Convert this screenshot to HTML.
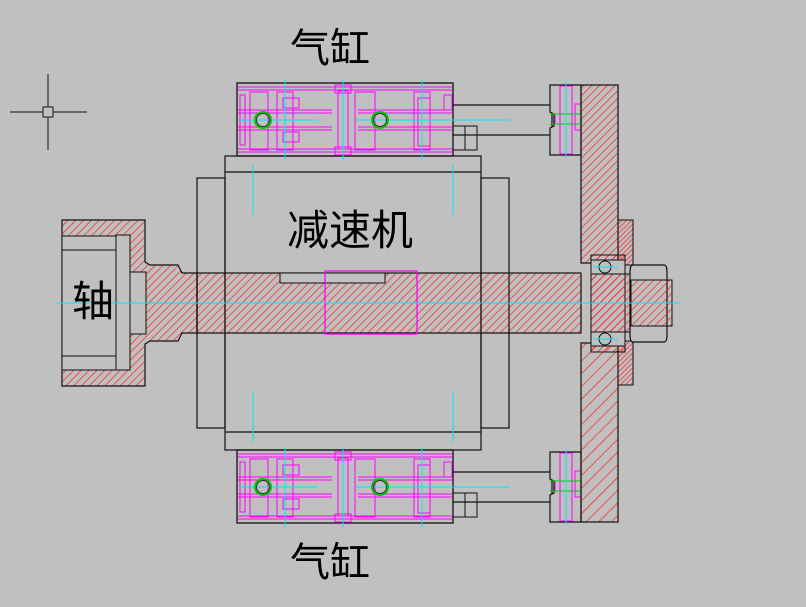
<!DOCTYPE html>
<html><head><meta charset="utf-8"><style>
html,body{margin:0;padding:0;background:#c0c0c0;}
svg{display:block;}
text{font-family:"Liberation Sans","WenQuanYi Zen Hei","Noto Sans CJK SC",sans-serif;fill:#000;}
</style></head><body>
<svg width="806" height="607" viewBox="0 0 806 607" xmlns="http://www.w3.org/2000/svg">
<defs>
<pattern id="h" width="5.5" height="5.5" patternUnits="userSpaceOnUse" patternTransform="rotate(45)">
<line x1="0" y1="0" x2="0" y2="5.5" stroke="#ff2020" stroke-width="1.4"/></pattern>
<pattern id="hd" width="3.5" height="3.5" patternUnits="userSpaceOnUse" patternTransform="rotate(45)">
<line x1="0" y1="0" x2="0" y2="3.5" stroke="#ff2020" stroke-width="1.4"/></pattern>
<pattern id="hw" width="9" height="9" patternUnits="userSpaceOnUse" patternTransform="rotate(45)">
<line x1="0" y1="0" x2="0" y2="9" stroke="#ff2020" stroke-width="1.4"/></pattern>
<g id="cyl">
<rect x="237" y="83" width="216" height="73" fill="none" stroke="#111" stroke-width="1.3"/>
<g fill="none" stroke="#ff00ff" stroke-width="1">
<line x1="238" y1="87" x2="452" y2="87"/><line x1="238" y1="90" x2="452" y2="90"/>
<line x1="238" y1="149" x2="452" y2="149"/><line x1="238" y1="152" x2="452" y2="152"/>
<rect x="240" y="95" width="5" height="50"/>
<rect x="250" y="92" width="18" height="58"/>
<rect x="277" y="92" width="16" height="58"/>
<rect x="283" y="98" width="16" height="10"/><rect x="283" y="132" width="16" height="10"/>
<rect x="338" y="91" width="10" height="58"/><rect x="335" y="85" width="16" height="8"/><rect x="335" y="147" width="16" height="8"/>
<line x1="238" y1="110" x2="332" y2="110"/><line x1="238" y1="113" x2="332" y2="113"/>
<line x1="238" y1="127" x2="332" y2="127"/><line x1="238" y1="130" x2="332" y2="130"/>
<line x1="358" y1="110" x2="452" y2="110"/><line x1="358" y1="113" x2="452" y2="113"/>
<line x1="358" y1="127" x2="452" y2="127"/><line x1="358" y1="130" x2="452" y2="130"/>
<rect x="355" y="92" width="20" height="58"/>
<rect x="414" y="92" width="16" height="58"/><rect x="418" y="98" width="12" height="48"/>
<rect x="444" y="95" width="8" height="15"/>
</g>
<g stroke="#00e5ff" stroke-width="1">
<line x1="240" y1="120" x2="318" y2="120"/><line x1="356" y1="120" x2="510" y2="120"/>
<line x1="285" y1="80" x2="285" y2="160"/><line x1="343" y1="80" x2="343" y2="160"/><line x1="422" y1="80" x2="422" y2="160"/>
</g>
<circle cx="263" cy="120" r="8" fill="none" stroke="#00c800" stroke-width="2"/>
<circle cx="263" cy="120" r="6.5" fill="none" stroke="#333" stroke-width="1"/>
<circle cx="380" cy="120" r="8" fill="none" stroke="#00c800" stroke-width="2"/>
<circle cx="380" cy="120" r="6.5" fill="none" stroke="#333" stroke-width="1"/>
<path d="M453 105 H552 V135 H453" fill="none" stroke="#111" stroke-width="1.2"/>
<g fill="none" stroke="#111"><rect x="453" y="126" width="12" height="24"/><rect x="465" y="126" width="12" height="24"/></g>
<path d="M550 85 H581 V155 H550 V128 L554 126 V114 L550 112 Z" fill="#c0c0c0" stroke="#111" stroke-width="1.2"/>
<g fill="none" stroke="#ff00ff"><rect x="560" y="86" width="12" height="68"/><rect x="575" y="104" width="6" height="26"/><rect x="555" y="114" width="20" height="10"/></g>
<line x1="550" y1="114" x2="580" y2="114" stroke="#00d000"/><line x1="550" y1="124" x2="580" y2="124" stroke="#00d000"/>
<line x1="566" y1="82" x2="566" y2="158" stroke="#00e5ff"/>
</g>
</defs>

<g stroke="#111" stroke-width="1" fill="none">
<line x1="10" y1="112" x2="87" y2="112"/><line x1="48" y1="74" x2="48" y2="150"/>
<rect x="43" y="107" width="10" height="10" fill="#c0c0c0"/>
</g>

<g fill="none" stroke="#111" stroke-width="1.2">
<rect x="197" y="178" width="28" height="250"/>
<rect x="481" y="178" width="28" height="250"/>
<rect x="225" y="156" width="256" height="294"/>
<line x1="225" y1="172" x2="481" y2="172"/><line x1="225" y1="432" x2="481" y2="432"/>
</g>
<g stroke="#00e5ff"><line x1="253" y1="165" x2="253" y2="215"/><line x1="453" y1="165" x2="453" y2="215"/>
<line x1="253" y1="392" x2="253" y2="442"/><line x1="453" y1="392" x2="453" y2="442"/></g>

<use href="#cyl"/>
<use href="#cyl" transform="translate(0,367)"/>

<path d="M62 220 H145 V262 L150 265 H178 L182 273 H197 V333 H182 L178 341 H150 L145 344 V386 H62 Z" fill="url(#h)" stroke="#111" stroke-width="1.2"/>
<rect x="62" y="236" width="68" height="134" fill="#c0c0c0" stroke="#111"/>
<line x1="62" y1="250" x2="116" y2="250" stroke="#111"/><line x1="62" y1="356" x2="116" y2="356" stroke="#111"/>
<rect x="116" y="235" width="14" height="135" fill="#c0c0c0" stroke="#111"/>
<rect x="130" y="272" width="16" height="62" fill="#c0c0c0" stroke="#111"/>

<rect x="197" y="273" width="384" height="60" fill="url(#h)" stroke="#111" stroke-width="1.2"/>
<rect x="280" y="273" width="105" height="10" fill="#c0c0c0" stroke="#111"/>
<rect x="325" y="271" width="92" height="63" fill="none" stroke="#ff00ff" stroke-width="1.3"/>
<g stroke="#111"><line x1="197" y1="250" x2="197" y2="356"/><line x1="225" y1="250" x2="225" y2="356"/>
<line x1="481" y1="250" x2="481" y2="356"/><line x1="509" y1="250" x2="509" y2="356"/></g>
<line x1="55" y1="303" x2="680" y2="303" stroke="#00e5ff"/>

<rect x="581" y="85" width="37" height="178" fill="url(#h)" stroke="#111" stroke-width="1.2"/>
<rect x="581" y="343" width="37" height="179" fill="url(#hw)" stroke="#111" stroke-width="1.2"/>
<rect x="618" y="220" width="15" height="45" fill="url(#hd)" stroke="#111"/>
<rect x="618" y="341" width="15" height="44" fill="url(#hd)" stroke="#111"/>
<rect x="591" y="255" width="34" height="97" fill="url(#h)" stroke="#111"/>
<rect x="591" y="260" width="34" height="14" fill="#c0c0c0" stroke="#111"/>
<rect x="591" y="332" width="34" height="14" fill="#c0c0c0" stroke="#111"/>
<circle cx="605" cy="267" r="6" fill="#c0c0c0" stroke="#111"/><circle cx="605" cy="339" r="6" fill="#c0c0c0" stroke="#111"/>
<line x1="594" y1="267" x2="618" y2="267" stroke="#00e5ff"/><line x1="594" y1="339" x2="618" y2="339" stroke="#00e5ff"/>
<rect x="591" y="274" width="40" height="58" fill="url(#h)" stroke="#111"/>
<path d="M633 265 H664 Q667 265 667 272 V335 Q667 342 664 342 H633 Q630 342 630 335 V272 Q630 265 633 265 Z" fill="#c0c0c0" stroke="#111" stroke-width="1.2"/>
<line x1="630" y1="280" x2="667" y2="280" stroke="#111"/><line x1="630" y1="326" x2="667" y2="326" stroke="#111"/>
<rect x="631" y="280" width="41" height="46" fill="url(#h)" stroke="#111"/>
<line x1="580" y1="303" x2="676" y2="303" stroke="#00e5ff"/>

<text x="330" y="62" font-size="40" text-anchor="middle">气缸</text>
<text x="330" y="576" font-size="40" text-anchor="middle">气缸</text>
<text x="350" y="245" font-size="42" text-anchor="middle">减速机</text>
<text x="93" y="316" font-size="42" text-anchor="middle">轴</text>
</svg>
</body></html>
